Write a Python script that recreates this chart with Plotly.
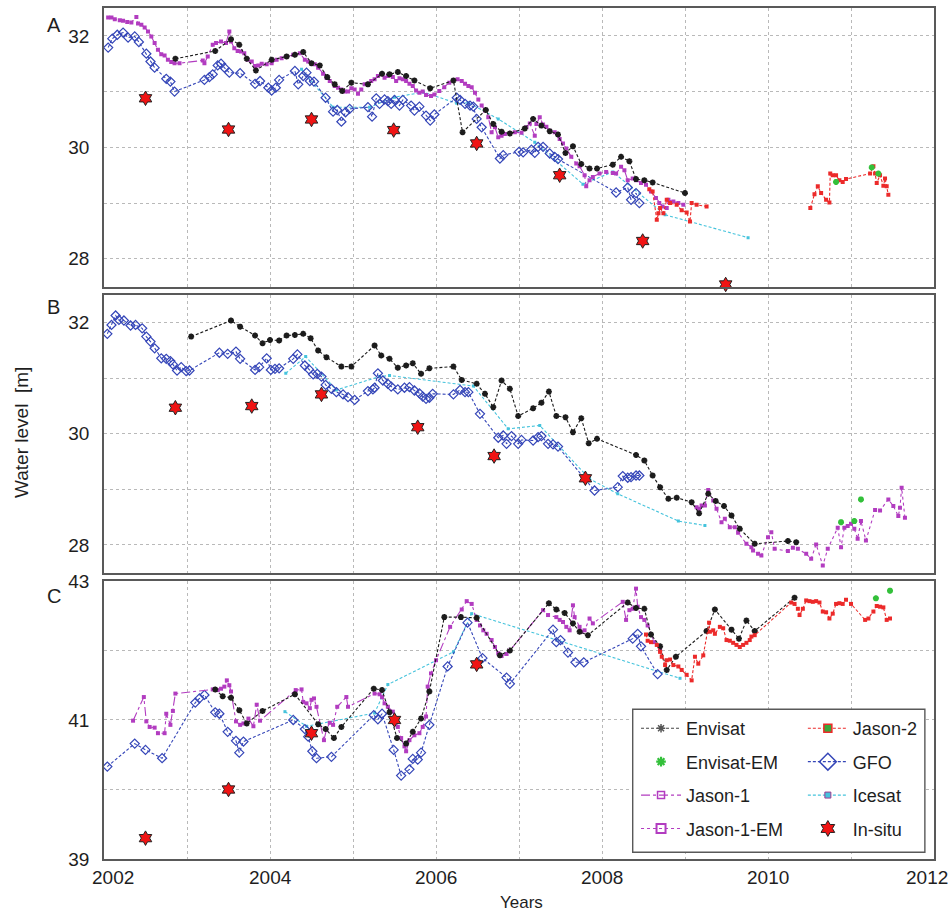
import plotly.graph_objects as go

# ---------------- Panel A : water level (m) vs decimal year ----------------
A_ENVISAT = [(2002.86, 31.59), (2003.34, 31.73), (2003.53, 31.94), (2003.63, 31.84), (2003.72, 31.59),
             (2003.83, 31.38), (2004.02, 31.57), (2004.20, 31.63), (2004.30, 31.66), (2004.40, 31.71),
             (2004.50, 31.51), (2004.60, 31.47), (2004.69, 31.26), (2004.78, 31.13), (2004.87, 31.01),
             (2004.98, 31.16), (2005.18, 31.13), (2005.35, 31.32), (2005.44, 31.31), (2005.54, 31.35),
             (2005.64, 31.28), (2005.74, 31.20), (2005.93, 31.06), (2006.21, 31.20), (2006.32, 30.27),
             (2006.60, 30.67), (2006.69, 30.42), (2006.79, 30.28), (2006.89, 30.25), (2007.07, 30.34),
             (2007.17, 30.51), (2007.27, 30.39), (2007.37, 30.29), (2007.47, 30.23), (2007.56, 29.90),
             (2007.65, 30.02), (2007.75, 29.70), (2007.85, 29.62), (2007.94, 29.62), (2008.13, 29.69),
             (2008.23, 29.83), (2008.33, 29.75), (2008.41, 29.43), (2008.51, 29.41), (2008.61, 29.37),
             (2009.00, 29.18)]
A_ENVISAT_EM = [(2010.82, 29.38), (2011.25, 29.64), (2011.33, 29.53)]
A_JASON1 = [(2002.05, 32.33), (2002.09, 32.33), (2002.13, 32.30), (2002.19, 32.28), (2002.23, 32.27),
            (2002.28, 32.25), (2002.33, 32.24), (2002.39, 32.34), (2002.41, 32.22), (2002.45, 32.20),
            (2002.49, 32.15), (2002.53, 32.08), (2002.57, 31.99), (2002.61, 31.87), (2002.65, 31.75),
            (2002.69, 31.67), (2002.73, 31.65), (2002.77, 31.57), (2002.81, 31.53), (2002.85, 31.51),
            (2002.91, 31.51), (2003.19, 31.56), (2003.21, 31.51), (2003.25, 31.63), (2003.31, 31.84),
            (2003.35, 31.87), (2003.41, 31.90), (2003.47, 31.87), (2003.51, 32.08), (2003.53, 31.90),
            (2003.57, 31.78), (2003.61, 31.73), (2003.65, 31.72), (2003.69, 31.69), (2003.73, 31.57),
            (2003.78, 31.54), (2003.82, 31.46), (2003.86, 31.47), (2003.90, 31.50), (2003.96, 31.49),
            (2004.02, 31.51), (2004.08, 31.57), (2004.14, 31.60), (2004.20, 31.63), (2004.28, 31.66),
            (2004.36, 31.69), (2004.42, 31.57), (2004.46, 31.54), (2004.50, 31.51), (2004.54, 31.49),
            (2004.58, 31.43), (2004.64, 31.32), (2004.68, 31.25), (2004.72, 31.19), (2004.78, 31.10),
            (2004.82, 31.07), (2004.86, 31.04), (2004.90, 31.00), (2004.94, 31.00), (2004.98, 31.06),
            (2005.02, 31.04), (2005.06, 30.96), (2005.10, 31.04), (2005.14, 31.13), (2005.18, 31.14),
            (2005.22, 31.19), (2005.26, 31.22), (2005.30, 31.28), (2005.34, 31.31), (2005.38, 31.25),
            (2005.42, 31.28), (2005.48, 31.26), (2005.52, 31.19), (2005.56, 31.24), (2005.60, 31.22),
            (2005.64, 31.19), (2005.68, 31.14), (2005.72, 31.10), (2005.76, 31.02), (2005.80, 30.98),
            (2005.84, 31.00), (2005.88, 30.94), (2005.94, 30.92), (2005.98, 30.95), (2006.04, 31.01),
            (2006.10, 31.08), (2006.16, 31.16), (2006.26, 31.22), (2006.31, 31.19), (2006.35, 31.14),
            (2006.39, 31.10), (2006.43, 31.08), (2006.47, 30.98), (2006.51, 30.86), (2006.55, 30.75),
            (2006.59, 30.66), (2006.63, 30.54), (2006.67, 30.27), (2006.71, 30.36), (2006.75, 30.18),
            (2006.79, 30.21), (2006.83, 30.24), (2006.89, 30.25), (2006.95, 30.27), (2007.03, 30.26),
            (2007.09, 30.36), (2007.13, 30.43), (2007.19, 30.21), (2007.21, 30.42), (2007.25, 30.54),
            (2007.29, 30.41), (2007.33, 30.37), (2007.37, 30.30), (2007.43, 30.27), (2007.49, 30.15),
            (2007.53, 30.07), (2007.57, 29.98), (2007.63, 29.83), (2007.69, 29.71), (2007.73, 29.66),
            (2007.79, 29.50), (2007.81, 29.30), (2007.85, 29.41), (2007.89, 29.47), (2007.97, 29.53),
            (2008.05, 29.56), (2008.13, 29.54), (2008.17, 29.53), (2008.23, 29.65), (2008.27, 29.59),
            (2008.31, 29.41), (2008.37, 29.44), (2008.41, 29.41), (2008.47, 29.36), (2008.53, 29.33),
            (2008.59, 29.21), (2008.65, 29.09), (2008.69, 29.00), (2008.73, 28.94), (2008.78, 28.91),
            (2008.80, 29.06), (2008.86, 29.03), (2008.92, 29.00), (2008.98, 28.97)]
A_JASON2 = [(2008.57, 29.25), (2008.61, 29.21), (2008.66, 28.70), (2008.68, 28.82), (2008.70, 28.91),
            (2008.74, 28.82), (2008.78, 29.06), (2008.82, 29.00), (2008.90, 28.97), (2008.96, 28.87),
            (2009.02, 28.83), (2009.06, 28.67), (2009.08, 29.00), (2009.14, 28.97), (2009.26, 28.94),
            (None, None),
            (2010.51, 28.91), (2010.56, 29.16), (2010.60, 29.30), (2010.64, 29.18), (2010.70, 29.06),
            (2010.74, 29.01), (2010.75, 29.53), (2010.78, 29.50), (2010.82, 29.50), (2010.86, 29.41),
            (2010.90, 29.38), (2010.94, 29.43), (2011.23, 29.53), (2011.27, 29.66), (2011.29, 29.53),
            (2011.31, 29.36), (2011.35, 29.50), (2011.39, 29.31), (2011.41, 29.44), (2011.43, 29.30),
            (2011.45, 29.15)]
A_GFO = [(2002.05, 31.79), (2002.10, 31.95), (2002.16, 32.02), (2002.23, 32.06), (2002.29, 31.97),
         (2002.37, 31.99), (2002.42, 31.89), (2002.51, 31.68), (2002.56, 31.54), (2002.61, 31.43),
         (2002.75, 31.23), (2002.80, 31.18), (2002.85, 31.00), (2003.21, 31.21), (2003.27, 31.26),
         (2003.31, 31.31), (2003.37, 31.47), (2003.41, 31.50), (2003.45, 31.43), (2003.51, 31.34),
         (2003.64, 31.33), (2003.82, 31.14), (2003.88, 31.19), (2003.98, 31.07), (2004.02, 31.02),
         (2004.07, 31.07), (2004.11, 31.21), (2004.30, 31.37), (2004.34, 31.13), (2004.40, 31.28),
         (2004.44, 31.34), (2004.48, 31.19), (2004.53, 31.18), (2004.67, 30.89), (2004.76, 30.64),
         (2004.81, 30.67), (2004.86, 30.46), (2004.91, 30.63), (2004.96, 30.69), (2005.18, 30.72),
         (2005.23, 30.55), (2005.28, 30.88), (2005.32, 30.78), (2005.38, 30.86), (2005.42, 30.83),
         (2005.46, 30.78), (2005.50, 30.85), (2005.56, 30.75), (2005.60, 30.85), (2005.70, 30.75),
         (2005.74, 30.66), (2005.80, 30.73), (2005.88, 30.57), (2005.93, 30.48), (2005.98, 30.59),
         (2006.25, 30.89), (2006.29, 30.85), (2006.35, 30.78), (2006.41, 30.75), (2006.45, 30.73),
         (2006.49, 30.51), (2006.55, 30.36), (2006.77, 29.80), (2006.81, 29.86), (2007.00, 29.92),
         (2007.05, 29.91), (2007.15, 29.96), (2007.19, 29.90), (2007.23, 30.01), (2007.29, 30.01),
         (2007.37, 29.89), (2007.43, 29.83), (2007.47, 29.79), (2008.17, 29.19), (2008.31, 29.28),
         (2008.35, 29.06), (2008.41, 29.18), (2008.45, 29.00)]
A_ICESAT = [(2004.38, 31.40), (2004.76, 30.72), (2005.20, 30.72), (2005.50, 30.90), (2005.85, 30.99),
            (2006.25, 30.79), (2006.39, 30.80), (2006.75, 30.51), (2007.19, 30.09), (2007.77, 29.34),
            (2008.13, 29.56), (2008.76, 28.79), (2009.76, 28.38)]
A_INSITU = [(2002.50, 30.88), (2003.50, 30.32), (2004.50, 30.50), (2005.49, 30.31), (2006.49, 30.07),
            (2007.49, 29.50), (2008.49, 28.32), (2009.49, 27.54)]

# ---------------- Panel B ----------------
B_ENVISAT = [(2003.05, 31.75), (2003.53, 32.04), (2003.64, 31.93), (2003.82, 31.77), (2003.91, 31.63),
             (2004.00, 31.69), (2004.11, 31.68), (2004.20, 31.77), (2004.30, 31.78), (2004.40, 31.80),
             (2004.49, 31.72), (2004.58, 31.50), (2004.68, 31.38), (2004.86, 31.21), (2004.98, 31.21),
             (2005.26, 31.59), (2005.34, 31.41), (2005.44, 31.35), (2005.54, 31.19), (2005.64, 31.23),
             (2005.72, 31.27), (2005.82, 31.08), (2005.92, 31.18), (2006.21, 31.21), (2006.31, 30.97),
             (2006.49, 30.90), (2006.59, 30.72), (2006.69, 30.48), (2006.79, 30.96), (2006.89, 30.81),
             (2006.99, 30.32), (2007.17, 30.46), (2007.27, 30.56), (2007.36, 30.76), (2007.45, 30.32),
             (2007.56, 30.30), (2007.65, 30.03), (2007.75, 30.28), (2007.84, 29.83), (2007.94, 29.91),
             (2008.41, 29.62), (2008.51, 29.52), (2008.61, 29.25), (2008.70, 29.04), (2008.80, 28.83),
             (2008.90, 28.85), (2009.08, 28.77), (2009.17, 28.57), (2009.28, 28.92), (2009.37, 28.79),
             (2009.47, 28.70), (2009.56, 28.53), (2009.66, 28.29), (2009.84, 28.02), (2010.24, 28.07),
             (2010.34, 28.05)]
B_ENVISAT_EM = [(2010.88, 28.41), (2011.04, 28.43), (2011.12, 28.82)]
B_JASON1_EM = [(2009.14, 28.68), (2009.17, 28.65), (2009.20, 28.71), (2009.24, 28.71), (2009.28, 28.99),
               (2009.34, 28.80), (2009.38, 28.65), (2009.44, 28.41), (2009.48, 28.47), (2009.54, 28.32),
               (2009.60, 28.32), (2009.64, 28.22), (2009.74, 28.02), (2009.80, 27.96), (2009.82, 27.90),
               (2009.88, 27.84), (2009.92, 27.81), (2010.00, 28.14), (2010.04, 28.23), (2010.08, 27.93),
               (2010.24, 27.89), (2010.30, 27.95), (2010.36, 27.93), (2010.46, 27.84), (2010.52, 27.75),
               (2010.58, 28.01), (2010.66, 27.63), (2010.72, 27.93), (2010.84, 28.31), (2010.88, 27.96),
               (2010.92, 28.31), (2010.96, 28.34), (2011.00, 28.38), (2011.04, 28.29), (2011.08, 28.11),
               (2011.12, 28.43), (2011.18, 28.08), (2011.29, 28.63), (2011.35, 28.62), (2011.45, 28.82),
               (2011.51, 28.70), (2011.57, 28.52), (2011.59, 28.67), (2011.61, 29.03), (2011.65, 28.49)]
B_GFO = [(2002.04, 31.80), (2002.09, 31.96), (2002.14, 32.13), (2002.18, 32.05), (2002.24, 32.04),
         (2002.32, 31.95), (2002.38, 31.96), (2002.46, 31.90), (2002.51, 31.75), (2002.56, 31.66),
         (2002.61, 31.54), (2002.69, 31.36), (2002.75, 31.35), (2002.80, 31.31), (2002.83, 31.25),
         (2002.88, 31.14), (2002.93, 31.20), (2002.99, 31.13), (2003.03, 31.14), (2003.39, 31.46),
         (2003.49, 31.44), (2003.59, 31.48), (2003.64, 31.35), (2003.82, 31.15), (2003.87, 31.20),
         (2003.96, 31.36), (2004.01, 31.15), (2004.06, 31.17), (2004.11, 31.18), (2004.28, 31.35),
         (2004.33, 31.43), (2004.42, 31.23), (2004.47, 31.16), (2004.52, 31.07), (2004.57, 31.08),
         (2004.62, 31.03), (2004.67, 30.88), (2004.74, 30.81), (2004.80, 30.75), (2004.88, 30.71),
         (2004.94, 30.66), (2005.02, 30.61), (2005.18, 30.77), (2005.24, 30.80), (2005.26, 30.83),
         (2005.30, 31.09), (2005.36, 30.96), (2005.42, 30.90), (2005.46, 30.85), (2005.54, 30.80),
         (2005.62, 30.83), (2005.68, 30.84), (2005.74, 30.78), (2005.80, 30.73), (2005.84, 30.67),
         (2005.88, 30.63), (2005.92, 30.65), (2005.96, 30.72), (2006.21, 30.71), (2006.29, 30.79),
         (2006.35, 30.75), (2006.39, 30.75), (2006.53, 30.36), (2006.75, 29.93), (2006.81, 29.97),
         (2006.85, 29.82), (2006.91, 29.96), (2006.99, 29.82), (2007.03, 29.89), (2007.17, 29.88),
         (2007.23, 29.94), (2007.27, 29.96), (2007.35, 29.82), (2007.41, 29.81), (2007.47, 29.77),
         (2007.91, 28.98), (2008.19, 29.04), (2008.25, 29.24), (2008.31, 29.21), (2008.35, 29.22),
         (2008.41, 29.25), (2008.45, 29.25)]
B_ICESAT = [(2004.19, 31.09), (2004.43, 31.39), (2004.80, 30.79), (2005.32, 31.03), (2005.44, 31.05),
            (2006.45, 30.86), (2006.87, 30.09), (2007.25, 30.15), (2007.85, 29.19), (2008.19, 28.92),
            (2008.92, 28.43), (2009.24, 28.35)]
B_INSITU = [(2002.86, 30.47), (2003.78, 30.50), (2004.62, 30.71), (2005.78, 30.12), (2006.70, 29.60),
            (2007.80, 29.20)]

# ---------------- Panel C ----------------
C_ENVISAT = [(2003.34, 41.44), (2003.43, 41.34), (2003.53, 41.32), (2003.63, 41.14), (2003.72, 40.95),
             (2003.91, 41.13), (2004.30, 41.37), (2004.58, 40.94), (2004.67, 40.87), (2004.77, 40.74),
             (2004.86, 40.90), (2005.25, 41.45), (2005.35, 41.43), (2005.44, 41.11), (2005.53, 40.74),
             (2005.64, 40.66), (2005.72, 40.83), (2005.82, 41.02), (2005.92, 41.41), (2006.10, 42.48),
             (2006.30, 42.48), (2006.49, 42.47), (2006.77, 41.93), (2006.89, 42.00), (2007.36, 42.68),
             (2007.45, 42.59), (2007.55, 42.54), (2007.65, 42.39), (2007.73, 42.27), (2007.83, 42.22),
             (2008.31, 42.69), (2008.41, 42.61), (2008.51, 42.60), (2008.59, 42.23), (2008.70, 42.06),
             (2008.78, 41.72), (2008.89, 41.91), (2009.26, 42.28), (2009.36, 42.59), (2009.56, 42.30),
             (2009.65, 42.17), (2009.74, 42.43), (2009.84, 42.28), (2010.32, 42.76)]
C_ENVISAT_EM = [(2011.30, 42.75), (2011.47, 42.86)]
C_JASON1 = [(2002.35, 40.99), (2002.48, 41.33), (2002.51, 40.98), (2002.55, 40.90), (2002.61, 40.89),
            (2002.65, 40.81), (2002.73, 40.81), (2002.75, 41.09), (2002.80, 40.93), (2002.83, 41.13),
            (2002.86, 41.38), (2003.31, 41.44), (2003.37, 41.43), (2003.41, 41.45), (2003.45, 41.48),
            (2003.48, 41.57), (2003.51, 41.50), (2003.53, 41.41), (2003.59, 40.98), (2003.64, 40.93),
            (2003.68, 40.95), (2003.74, 41.02), (2003.80, 40.91), (2003.84, 41.22), (2003.88, 40.99),
            (2004.31, 41.43), (2004.38, 41.44), (2004.40, 41.26), (2004.44, 41.24), (2004.48, 41.17),
            (2004.50, 41.29), (2004.53, 41.31), (2004.56, 41.19), (2004.65, 40.71), (2004.68, 40.86),
            (2004.72, 40.96), (2004.76, 40.93), (2004.81, 41.19), (2004.92, 41.33), (2004.94, 41.19),
            (2005.26, 41.38), (2005.32, 41.37), (2005.35, 41.33), (2005.38, 41.24), (2005.42, 41.19),
            (2005.48, 41.12), (2005.54, 40.90), (2005.58, 40.74), (2005.62, 40.62), (2005.64, 40.55),
            (2005.68, 40.71), (2005.74, 40.78), (2005.80, 40.81), (2005.84, 40.90), (2005.88, 41.05),
            (2005.90, 41.48), (2005.94, 41.67), (2006.00, 41.86), (2006.17, 42.34), (2006.31, 42.59),
            (2006.37, 42.71), (2006.43, 42.67), (2006.49, 42.44), (2006.53, 42.36), (2006.57, 42.29),
            (2006.61, 42.24), (2006.67, 42.15), (2006.71, 42.05), (2006.75, 41.96), (2006.79, 41.92),
            (2006.85, 41.95), (2006.89, 42.00), (2007.29, 42.58), (2007.35, 42.51), (2007.45, 42.48),
            (2007.49, 42.44), (2007.53, 42.41), (2007.57, 42.34), (2007.61, 42.29), (2007.65, 42.65),
            (2007.67, 42.48), (2007.73, 42.34), (2007.75, 42.27), (2007.79, 42.29), (2007.85, 42.46),
            (2007.89, 42.39), (2008.25, 42.70), (2008.29, 42.44), (2008.33, 42.58), (2008.37, 42.60),
            (2008.41, 42.89), (2008.43, 42.63), (2008.47, 42.48), (2008.51, 42.44), (2008.55, 42.36),
            (2008.63, 42.12), (2008.70, 42.00)]
C_JASON2 = [(2008.53, 42.23), (2008.55, 42.14), (2008.59, 42.12), (2008.66, 42.08), (2008.70, 41.98),
            (2008.72, 41.91), (2008.76, 41.79), (2008.78, 41.86), (2008.82, 41.87), (2008.86, 41.79),
            (2008.92, 41.77), (2008.96, 41.72), (2009.02, 41.65), (2009.08, 41.57), (2009.12, 41.91),
            (2009.16, 41.81), (2009.22, 41.93), (2009.29, 42.40), (2009.30, 42.27), (2009.34, 42.29),
            (2009.36, 42.24), (2009.42, 42.34), (2009.46, 42.32), (2009.50, 42.15), (2009.54, 42.14),
            (2009.58, 42.11), (2009.62, 42.08), (2009.66, 42.05), (2009.70, 42.08), (2009.74, 42.11),
            (2009.78, 42.15), (2009.80, 42.20), (2009.84, 42.22), (2010.28, 42.69), (2010.32, 42.67),
            (2010.36, 42.60), (2010.38, 42.51), (2010.42, 42.60), (2010.46, 42.72), (2010.50, 42.71),
            (2010.54, 42.70), (2010.58, 42.71), (2010.62, 42.69), (2010.66, 42.56), (2010.70, 42.55),
            (2010.74, 42.46), (2010.78, 42.53), (2010.82, 42.67), (2010.86, 42.68), (2010.90, 42.67),
            (2010.94, 42.73), (2011.00, 42.67), (2011.17, 42.44), (2011.21, 42.46), (2011.27, 42.56),
            (2011.31, 42.64), (2011.35, 42.63), (2011.39, 42.62), (2011.43, 42.44), (2011.47, 42.46)]
C_GFO = [(2002.04, 40.33), (2002.37, 40.66), (2002.50, 40.57), (2002.70, 40.45), (2003.10, 41.25),
         (2003.15, 41.31), (2003.21, 41.36), (2003.34, 41.11), (2003.39, 41.09), (2003.49, 40.83),
         (2003.59, 40.70), (2003.63, 40.53), (2003.68, 40.69), (2004.28, 41.00), (2004.42, 40.87),
         (2004.46, 40.76), (2004.51, 40.55), (2004.56, 40.45), (2004.74, 40.47), (2005.25, 41.07),
         (2005.30, 41.01), (2005.35, 41.09), (2005.49, 40.57), (2005.58, 40.20), (2005.68, 40.29),
         (2005.72, 40.44), (2005.78, 40.43), (2005.82, 40.53), (2005.92, 40.93), (2006.14, 41.77),
         (2006.38, 42.40), (2006.56, 41.89), (2006.85, 41.61), (2006.89, 41.52), (2007.41, 42.30),
         (2007.45, 42.12), (2007.50, 42.15), (2007.59, 41.97), (2007.68, 41.83), (2007.78, 41.83),
         (2008.37, 42.17), (2008.43, 42.24), (2008.47, 42.06), (2008.67, 41.66)]
C_ICESAT = [(2004.18, 41.12), (2004.44, 40.91), (2005.26, 41.10), (2005.42, 41.51), (2006.21, 41.98),
            (2006.43, 42.53), (2008.94, 41.60)]
C_INSITU = [(2002.50, 39.30), (2003.50, 40.00), (2004.50, 40.81), (2005.50, 41.00), (2006.49, 41.80)]

YEARS = list(range(2002, 2013))
YEAR_LABELS = ["2002", "", "2004", "", "2006", "", "2008", "", "2010", "", "2012"]

# ---------------- styling ----------------
FONT = "Liberation Sans, Arial, Helvetica, sans-serif"
INK = "#1e1e1e"
COL_ENV, COL_EM, COL_J1, COL_J2, COL_GFO, COL_ICE, COL_INS = (
    "#1c1c1c", "#33c03a", "#b23cc0", "#ec2a2a", "#3546b8", "#45c3dc", "#f01414")

STYLE = {
    "Envisat": dict(mode="lines+markers", line=dict(color=COL_ENV, width=1.1, dash="3px,2px"),
                    marker=dict(symbol="asterisk-open", size=5, color=COL_ENV, line=dict(width=1.8))),
    "Envisat-EM": dict(mode="markers",
                       marker=dict(symbol="asterisk-open", size=5, color=COL_EM, line=dict(width=2))),
    "Jason-1": dict(mode="lines+markers", line=dict(color=COL_J1, width=1.1, dash="dashdot"),
                    marker=dict(symbol="square", size=4, color=COL_J1)),
    "Jason-1-EM": dict(mode="lines+markers", line=dict(color=COL_J1, width=1.1, dash="dot"),
                       marker=dict(symbol="square", size=4, color=COL_J1)),
    "Jason-2": dict(mode="lines+markers", line=dict(color=COL_J2, width=1.1, dash="3px,2px"),
                    marker=dict(symbol="square", size=4, color=COL_J2)),
    "GFO": dict(mode="lines+markers", line=dict(color=COL_GFO, width=1.1, dash="3px,2px"),
                marker=dict(symbol="diamond-open", size=7, color=COL_GFO, line=dict(width=1.2))),
    "Icesat": dict(mode="lines+markers", line=dict(color=COL_ICE, width=1.1, dash="3px,2px"),
                   marker=dict(symbol="square", size=3, color=COL_ICE)),
    "In-situ": dict(mode="markers", cliponaxis=False,
                    marker=dict(symbol="hexagram", size=11, color=COL_INS, line=dict(color="#222", width=1))),
}

# larger symbols for the legend keys
LEGEND_STYLE = {
    "Envisat": dict(mode="lines+markers", line=dict(color="#444", width=1.1, dash="3px,2px"),
                    marker=dict(symbol="asterisk-open", size=7, color="#555", line=dict(width=1.5))),
    "Envisat-EM": dict(mode="markers",
                       marker=dict(symbol="asterisk-open", size=8, color=COL_EM, line=dict(width=2.2))),
    "Jason-1": dict(mode="lines+markers", line=dict(color=COL_J1, width=1.1, dash="dashdot"),
                    marker=dict(symbol="square-open", size=7, color=COL_J1, line=dict(width=1.5))),
    "Jason-1-EM": dict(mode="lines+markers", line=dict(color=COL_J1, width=1.1, dash="dot"),
                       marker=dict(symbol="square-open", size=9, color=COL_J1, line=dict(width=2))),
    "Jason-2": dict(mode="lines+markers", line=dict(color=COL_J2, width=1.1, dash="3px,2px"),
                    marker=dict(symbol="square", size=8, color="#3aa83a", line=dict(color=COL_J2, width=1.5))),
    "GFO": dict(mode="lines+markers", line=dict(color=COL_GFO, width=1.1, dash="3px,2px"),
                marker=dict(symbol="diamond-open", size=13, color=COL_GFO, line=dict(width=1.5))),
    "Icesat": dict(mode="lines+markers", line=dict(color=COL_ICE, width=1.1, dash="3px,2px"),
                   marker=dict(symbol="square", size=6, color=COL_ICE, line=dict(color="#a03a90", width=1))),
    "In-situ": dict(mode="markers",
                    marker=dict(symbol="hexagram", size=12, color=COL_INS, line=dict(color="#222", width=1))),
}

PANELS = [
    ("", {"Envisat": A_ENVISAT, "Envisat-EM": A_ENVISAT_EM, "Jason-1": A_JASON1, "Jason-2": A_JASON2,
          "GFO": A_GFO, "Icesat": A_ICESAT, "In-situ": A_INSITU}),
    ("2", {"Envisat": B_ENVISAT, "Envisat-EM": B_ENVISAT_EM, "Jason-1-EM": B_JASON1_EM,
           "GFO": B_GFO, "Icesat": B_ICESAT, "In-situ": B_INSITU}),
    ("3", {"Envisat": C_ENVISAT, "Envisat-EM": C_ENVISAT_EM, "Jason-1": C_JASON1, "Jason-2": C_JASON2,
           "GFO": C_GFO, "Icesat": C_ICESAT, "In-situ": C_INSITU}),
]
DRAW_ORDER = ["Icesat", "GFO", "Jason-1", "Jason-1-EM", "Envisat", "Jason-2", "Envisat-EM", "In-situ"]

fig = go.Figure()
for suffix, series in PANELS:
    for name in DRAW_ORDER:
        if name not in series:
            continue
        pts = series[name]
        fig.add_trace(go.Scatter(
            x=[p[0] for p in pts], y=[p[1] for p in pts], name=name, showlegend=False,
            legendgroup=name, connectgaps=False, hoverinfo="skip",
            xaxis="x" + suffix, yaxis="y" + suffix, **STYLE[name]))

LEFT_COL = ["Envisat", "Envisat-EM", "Jason-1", "Jason-1-EM"]
RIGHT_COL = ["Jason-2", "GFO", "Icesat", "In-situ"]
for legend_id, names in (("legend", LEFT_COL), ("legend2", RIGHT_COL)):
    for name in names:
        fig.add_trace(go.Scatter(x=[None], y=[None], name=name, legend=legend_id,
                                 legendgroup=name + "_key", showlegend=True,
                                 xaxis="x3", yaxis="y3", **LEGEND_STYLE[name]))

grid = dict(showgrid=True, gridcolor="#b9b9b9", griddash="dot", gridwidth=1, zeroline=False,
            showline=True, mirror=True, linecolor="#595959", linewidth=1.6, ticks="",
            tickfont=dict(family=FONT, size=19, color=INK))

domains = [[0.6725, 1.0], [0.3364, 0.6628], [0.0, 0.3267]]
yranges = [[27.5, 32.5], [27.5, 32.5], [39, 43]]
ytickv = [[28, 29, 30, 31, 32], [28, 29, 30, 31, 32], [39, 40, 41, 42, 43]]
ytickt = [["28", "", "30", "", "32"], ["28", "", "30", "", "32"], ["39", "", "41", "", "43"]]

layout_axes = {}
for i, suffix in enumerate(["", "2", "3"]):
    layout_axes["xaxis" + suffix] = dict(
        grid, domain=[0, 1], range=[2002, 2012], anchor="y" + suffix,
        tickvals=YEARS, showticklabels=False)
    layout_axes["yaxis" + suffix] = dict(
        grid, domain=domains[i], range=yranges[i], anchor="x" + suffix,
        tickvals=ytickv[i], ticktext=ytickt[i], ticklabelstandoff=9)

# year labels under the bottom panel; the two end labels are nudged inside the frame
year_notes = []
for yr, label in zip(YEARS, YEAR_LABELS):
    if not label:
        continue
    shift = 9 if yr == YEARS[0] else (-7 if yr == YEARS[-1] else 0)
    year_notes.append(dict(text=label, x=yr, xref="x3", y=0, yref="paper", yanchor="top",
                           xanchor="center", yshift=-6, xshift=shift, showarrow=False,
                           font=dict(family=FONT, size=19, color=INK)))

legend_common = dict(bgcolor="rgba(0,0,0,0)", borderwidth=0, xanchor="left", yanchor="top",
                     font=dict(family=FONT, size=18, color=INK),
                     tracegroupgap=7, traceorder="grouped", itemwidth=40)

label_font = dict(family=FONT, size=20, color=INK)
fig.update_layout(
    width=952, height=914, autosize=False,
    margin=dict(l=104, r=18, t=8, b=55, autoexpand=False),
    paper_bgcolor="white", plot_bgcolor="white",
    showlegend=True,
    legend=dict(legend_common, x=0.641, y=0.175),
    legend2=dict(legend_common, x=0.842, y=0.175),
    shapes=[dict(type="rect", xref="paper", yref="paper", x0=0.637, x1=0.989, y0=0.008, y1=0.176,
                 line=dict(color="#595959", width=1.4), fillcolor="white", layer="above")],
    annotations=year_notes + [
        dict(text="A", x=-0.060, y=0.9795, xref="paper", yref="paper", showarrow=False,
             xanchor="center", yanchor="middle", font=label_font),
        dict(text="B", x=-0.061, y=0.6487, xref="paper", yref="paper", showarrow=False,
             xanchor="center", yanchor="middle", font=label_font),
        dict(text="C", x=-0.060, y=0.3090, xref="paper", yref="paper", showarrow=False,
             xanchor="center", yanchor="middle", font=label_font),
        dict(text="Water level  [m]", x=-0.0988, y=0.5018, xref="paper", yref="paper",
             showarrow=False, textangle=-90, xanchor="center", yanchor="middle",
             font=dict(family=FONT, size=19, color=INK)),
        dict(text="Years", x=0.5036, y=-0.0517, xref="paper", yref="paper", showarrow=False,
             xanchor="center", yanchor="middle", font=dict(family=FONT, size=17, color=INK)),
    ],
    **layout_axes,
)

fig.write_html("out.html")
